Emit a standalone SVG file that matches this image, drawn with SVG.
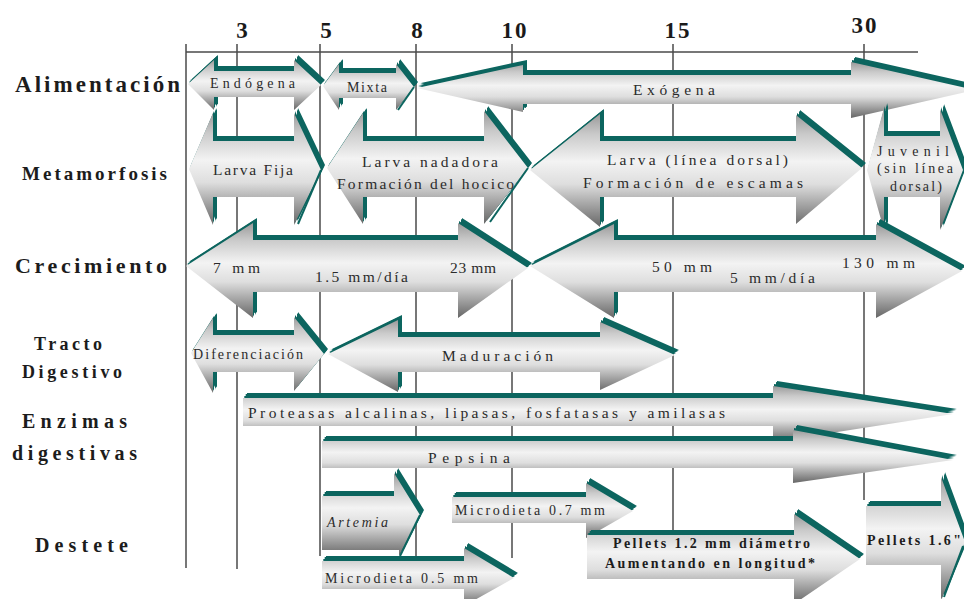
<svg xmlns="http://www.w3.org/2000/svg" width="964" height="599" viewBox="0 0 964 599">
<defs>
<linearGradient id="g" x1="0" y1="0" x2="0" y2="1">
<stop offset="0" stop-color="#9a9a9a"/>
<stop offset="0.18" stop-color="#cacaca"/>
<stop offset="0.42" stop-color="#f3f3f3"/>
<stop offset="0.62" stop-color="#dedede"/>
<stop offset="0.8" stop-color="#a5a5a5"/>
<stop offset="1" stop-color="#666666"/>
</linearGradient>
<filter id="ex" x="-0.1" y="-0.4" width="1.2" height="1.8" color-interpolation-filters="sRGB">
<feOffset in="SourceAlpha" dx="1.3" dy="-1.8" result="a"/>
<feOffset in="SourceAlpha" dx="2.7" dy="-3.7" result="b"/>
<feOffset in="SourceAlpha" dx="4" dy="-5.5" result="c"/>
<feMerge result="m"><feMergeNode in="a"/><feMergeNode in="b"/><feMergeNode in="c"/></feMerge>
<feFlood flood-color="#0c655f"/>
<feComposite operator="in" in2="m" result="t"/>
<feMerge><feMergeNode in="t"/><feMergeNode in="SourceGraphic"/></feMerge>
</filter>
</defs>
<style>
.ar{fill:url(#g);filter:url(#ex)}
.edge{fill:none;stroke:#0c655f;stroke-width:2}
.grid{stroke:#4a4a4a;stroke-width:1.5;fill:none}
.lbl{font-family:"Liberation Serif",serif;font-weight:bold;fill:#1c1c1c}
.tick{font-family:"Liberation Serif",serif;font-weight:bold;font-size:23px;fill:#1a1a1a;text-anchor:middle}
.t{font-family:"Liberation Serif",serif;font-size:15.5px;fill:#2b2b2b}
.s{font-size:14px}
.b{font-weight:bold;fill:#1c1c1c}
</style>
<rect width="964" height="599" fill="#ffffff"/>

<g id="axis">
<line class="grid" x1="186" y1="52" x2="918" y2="52"/>
<line class="grid" x1="186" y1="44" x2="186" y2="568"/>
<line class="grid" x1="237" y1="44" x2="237" y2="569"/>
<line class="grid" x1="320" y1="44" x2="320" y2="556"/>
<line class="grid" x1="416" y1="44" x2="416" y2="556"/>
<line class="grid" x1="512" y1="44" x2="512" y2="558"/>
<line class="grid" x1="673" y1="44" x2="673" y2="530"/>
<line class="grid" x1="864" y1="44" x2="864" y2="500"/>
<text class="tick" x="242" y="38">3</text>
<text class="tick" x="326" y="38">5</text>
<text class="tick" x="417" y="38">8</text>
<text class="tick" x="515" y="38" letter-spacing="2">10</text>
<text class="tick" x="678" y="38" letter-spacing="2">15</text>
<text class="tick" x="865" y="33" letter-spacing="2">30</text>
</g>

<g id="labels">
<text class="lbl" x="15" y="92" font-size="23" textLength="165" lengthAdjust="spacing">Alimentación</text>
<text class="lbl" x="22" y="180" font-size="19" textLength="145" lengthAdjust="spacing">Metamorfosis</text>
<text class="lbl" x="15" y="273" font-size="22" textLength="152" lengthAdjust="spacing">Crecimiento</text>
<text class="lbl" x="34" y="350" font-size="18" textLength="68" lengthAdjust="spacing">Tracto</text>
<text class="lbl" x="22" y="378" font-size="18" textLength="100" lengthAdjust="spacing">Digestivo</text>
<text class="lbl" x="22" y="428" font-size="20" textLength="105" lengthAdjust="spacing">Enzimas</text>
<text class="lbl" x="12" y="460" font-size="20" textLength="125" lengthAdjust="spacing">digestivas</text>
<text class="lbl" x="35" y="552" font-size="20" textLength="93" lengthAdjust="spacing">Destete</text>
</g>

<g id="n-endogena">
<polygon class="ar" points="188,84 214,60 214,71 294,71 294,60 321,85 294,110 294,97 214,97 214,110"/>
<text class="t s" x="210" y="88" textLength="85" lengthAdjust="spacing">Endógena</text>
</g>
<g id="n-mixta">
<polygon class="ar" points="323,86 339,64 339,73 396,73 396,64 414,87 396,110 396,98 339,98 339,110"/>
<polyline class="edge" points="414,87 398,110"/>
<text class="t s" x="347" y="92" textLength="40" lengthAdjust="spacing">Mixta</text>
</g>
<g id="n-exogena">
<polygon class="ar" points="417,88 523,65 523,75 851,75 851,62 975,90 851,118 851,104 523,104 523,112"/>
<text class="t" x="633" y="95" textLength="82" lengthAdjust="spacing">Exógena</text>
</g>

<g id="n-larvafija">
<polygon class="ar" points="189,169 213,113 213,141 294,141 294,113 321,170 294,225 294,197 213,197 213,225"/>
<polyline class="edge" points="321,170 298,224"/>
<text class="t" x="213" y="175" textLength="80" lengthAdjust="spacing">Larva Fija</text>
</g>
<g id="n-larvanadadora">
<polygon class="ar" points="327,168 363,113 363,141 484,141 484,111 528,168 484,224 484,197 363,197 363,224"/>
<polyline class="edge" points="528,168 490,222"/>
<text class="t" x="362" y="167" textLength="136" lengthAdjust="spacing">Larva nadadora</text>
<text class="t" x="337" y="189" textLength="177" lengthAdjust="spacing">Formación del hocico</text>
</g>
<g id="n-larvadorsal">
<polygon class="ar" points="530,170 600,114 600,141 796,141 796,115 862,168 796,224 796,197 600,197 600,227"/>
<text class="t" x="607" y="165" textLength="181" lengthAdjust="spacing">Larva (línea dorsal)</text>
<text class="t" x="583" y="188" textLength="220" lengthAdjust="spacing">Formación de escamas</text>
</g>
<g id="n-juvenil">
<polygon class="ar" points="867,170 884,108 884,136 940,136 940,109 963,170 940,230 940,197 884,197 884,230"/>
<text class="t s" x="877" y="156" textLength="72" lengthAdjust="spacing">Juvenil</text>
<text class="t s" x="877" y="173" textLength="76" lengthAdjust="spacing">(sin línea</text>
<text class="t s" x="890" y="191" textLength="52" lengthAdjust="spacing">dorsal)</text>
</g>

<g id="n-crec1">
<polygon class="ar" points="186,266 253,223 253,240 458,240 458,223 528,268 458,318 458,292 253,292 253,318"/>
<text class="t" x="213" y="273" textLength="47" lengthAdjust="spacing">7 mm</text>
<text class="t" x="315" y="282" textLength="93" lengthAdjust="spacing">1.5 mm/día</text>
<text class="t" x="450" y="273" textLength="46" lengthAdjust="spacing">23 mm</text>
</g>
<g id="n-crec2">
<polygon class="ar" points="530,266 614,224 614,240 876,240 876,224 962,271 876,318 876,292 614,292 614,318"/>
<text class="t" x="652" y="272" textLength="60" lengthAdjust="spacing">50 mm</text>
<text class="t" x="730" y="283" textLength="85" lengthAdjust="spacing">5 mm/día</text>
<text class="t" x="842" y="268" textLength="73" lengthAdjust="spacing">130 mm</text>
</g>

<g id="n-diferenciacion">
<polygon class="ar" points="191,353 213,318 213,335 294,335 294,317 324,354 294,391 294,372 213,372 213,393"/>
<text class="t s" x="193" y="359" textLength="110" lengthAdjust="spacing">Diferenciación</text>
</g>
<g id="n-maduracion">
<polygon class="ar" points="328,354 398,320 398,337 600,337 600,322 675,355 600,390 600,372 398,372 398,392"/>
<text class="t" x="442" y="361" textLength="111" lengthAdjust="spacing">Maduración</text>
</g>

<g id="n-proteasas">
<polygon class="ar" points="243,398 773,398 773,386 953,414 773,442 773,426 243,426"/>
<text class="t" x="248" y="418" font-size="16.5" textLength="477" lengthAdjust="spacing">Proteasas alcalinas, lipasas, fosfatasas y amilasas</text>
</g>
<g id="n-pepsina">
<polygon class="ar" points="322,441 793,441 793,430 953,460 793,483 793,468 322,468"/>
<text class="t" x="428" y="463" font-size="16.5" textLength="82" lengthAdjust="spacing">Pepsina</text>
</g>

<g id="n-artemia">
<polygon class="ar" points="322,496 394,496 394,473 420,515 399,556 399,550 322,550"/>
<polyline class="edge" points="420,515 400,556"/>
<text class="t s" x="327" y="527" font-style="italic" textLength="61" lengthAdjust="spacing">Artemia</text>
</g>
<g id="n-micro07">
<polygon class="ar" points="452,497 586,497 586,483 633,511 586,538 586,523 452,523"/>
<text class="t s" x="455" y="515" textLength="150" lengthAdjust="spacing">Microdieta 0.7 mm</text>
</g>
<g id="n-micro05">
<polygon class="ar" points="322,561 464,561 464,548 514,578 464,606 464,589 322,589"/>
<text class="t s" x="325" y="583" textLength="153" lengthAdjust="spacing">Microdieta 0.5 mm</text>
</g>
<g id="n-pellets12">
<polygon class="ar" points="587,535 794,535 794,514 860,559 794,604 794,579 587,579"/>
<text class="t s b" x="613" y="548" textLength="197" lengthAdjust="spacing">Pellets 1.2 mm diámetro</text>
<text class="t s b" x="605" y="568" textLength="210" lengthAdjust="spacing">Aumentando en longitud*</text>
</g>
<g id="n-pellets16">
<polygon class="ar" points="866,506 941,506 941,477 965,542 941,600 941,565 866,565"/>
<polyline class="edge" points="963,546 944,597" stroke-width="3"/>
<text class="t s b" x="867" y="545" textLength="94" lengthAdjust="spacing">Pellets 1.6"</text>
</g>
</svg>
